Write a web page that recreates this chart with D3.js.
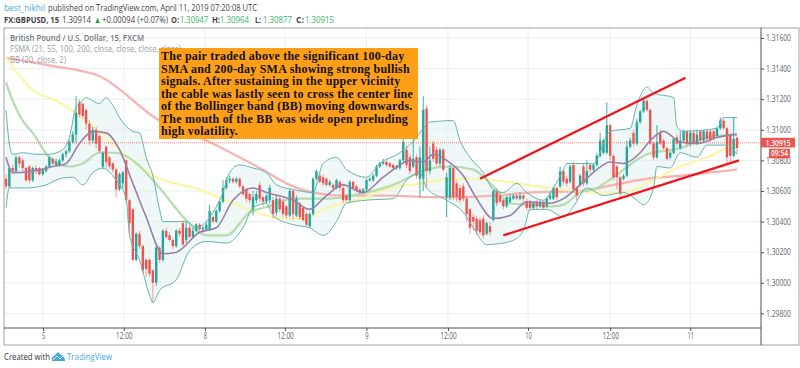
<!DOCTYPE html>
<html>
<head>
<meta charset="utf-8">
<script src="https://cdnjs.cloudflare.com/ajax/libs/d3/7.8.5/d3.min.js"></script>
<style>
    body { margin: 0; background: #fff; }
    text { font-family: "Open Sans", sans-serif; }
    .axis path, .axis line { stroke: #4a4f5a; }
    .axis text { fill: #5d606b; font-size: 8.6px; font-family: "Open Sans", sans-serif; }
</style>
</head>
<body>
<script>
//candles, prices in 1/10000 (13068 = 1.3068), one entry per visible bar
var candleOpen = [
    13068,13063,13075,13073,13082,13080,13075,13076,13067,13075,
    13075,13071,13073,13076,13081,13077,13077,13080,13084,
    13086,13092,13097,13118,13117,13113,13104,13093,13100,
    13096,13076,13089,13082,13078,13074,13061,13065,13080,13054,
    13048,13015,13032,13024,13015,13015,13008,13000,13023,
    13015,13034,13031,13028,13024,13034,13039,13028,13036,13030,13034,
    13038,13035,13035,13035,13043,13040,13047,13053,13062,13067,13068,
    13066,13068,13063,13061,13058,13048,13054,13064,13056,13053,13054,13054,
    13046,13055,13053,13050,13044,13060,13044,13052,13049,13045,
    13037,13045,13068,13070,13069,13068,13064,13064,13062,13066,13062,
    13057,13054,13066,13063,13061,13059,13061,13067,13067,13070,
    13076,13078,13079,13078,13077,13075,13075,13080,13087,13082,13076,
    13082,13068,13068,13114,13073,13091,13087,13078,13087,13056,
    13056,13075,13065,13062,13063,13055,13048,13043,13042,13041,
    13042,13032,13037,13041,13060,13057,13054,13050,13053,13055,
    13057,13055,13057,13053,13053,13049,13053,13050,
    13053,13050,13055,13055,13062,13063,13073,13068,13066,13077,
    13062,13064,13076,13065,13077,13074,13077,13083,13085,13085,
    13103,13083,13076,13069,13068,13070,13089,13098,13091,13105,
    13112,13119,13113,13091,13082,13098,13093,13088,13082,
    13085,13095,13088,13093,13099,13091,13098,13091,13099,13093,
    13099,13099,13099,13096,13101,13106,13101,13096,13083,13095
];
var candleClose = [
    13063,13075,13073,13082,13078,13075,13067,13067,13075,13073,
    13071,13074,13076,13082,13078,13079,13080,13084,13086,
    13092,13097,13111,13110,13109,13104,13093,13100,13091,
    13086,13085,13079,13076,13074,13061,13071,13072,13054,13039,
    13015,13032,13024,13008,13009,13006,13000,13023,13015,
    13034,13030,13028,13024,13034,13032,13025,13036,13030,13034,13038,
    13035,13036,13038,13047,13040,13047,13053,13062,13067,13068,13066,
    13068,13063,13058,13055,13054,13056,13058,13055,13053,13057,13062,13045,
    13055,13048,13045,13044,13060,13045,13055,13043,13041,13038,
    13045,13068,13073,13066,13065,13064,13066,13062,13067,13062,13054,
    13054,13066,13062,13060,13059,13061,13067,13068,13070,13076,
    13078,13079,13077,13076,13075,13076,13080,13092,13077,13073,13081,
    13070,13082,13113,13073,13080,13081,13078,13087,13074,13069,
    13075,13056,13056,13054,13055,13045,13036,13040,13034,13033,
    13031,13039,13033,13060,13052,13053,13050,13056,13056,13057,
    13055,13057,13055,13049,13049,13052,13050,13053,
    13049,13055,13057,13062,13056,13073,13066,13065,13076,13061,
    13057,13070,13065,13073,13074,13077,13083,13093,13093,13103,
    13083,13069,13069,13058,13070,13089,13093,13091,13105,13112,
    13119,13113,13091,13082,13092,13091,13088,13081,13085,
    13094,13091,13093,13099,13091,13098,13091,13097,13093,13099,
    13094,13093,13094,13101,13106,13101,13082,13083,13094,13088
];
var candleHigh = [
    13071,13076,13077,13083,13083,13081,13076,13077,13076,13077,
    13076,13075,13077,13083,13082,13081,13081,13085,13087,
    13093,13099,13122,13120,13118,13114,13106,13102,13102,
    13097,13086,13090,13083,13079,13075,13072,13073,13081,13055,
    13049,13033,13034,13025,13016,13016,13009,13024,13024,
    13035,13036,13033,13029,13035,13036,13041,13040,13038,13036,13039,
    13039,13037,13040,13051,13044,13048,13054,13067,13069,13070,13069,
    13069,13069,13064,13062,13059,13060,13060,13066,13057,13058,13064,13056,
    13057,13056,13055,13051,13061,13061,13057,13053,13050,13046,
    13046,13069,13074,13072,13071,13069,13067,13065,13068,13067,13063,
    13058,13067,13067,13064,13062,13062,13068,13069,13071,13077,
    13079,13081,13080,13079,13078,13077,13081,13095,13090,13084,13095,
    13084,13089,13122,13116,13089,13093,13089,13088,13088,13072,
    13077,13076,13067,13064,13065,13057,13049,13045,13044,13043,
    13044,13040,13040,13061,13062,13059,13055,13057,13058,13058,
    13058,13059,13058,13055,13054,13053,13054,13054,
    13054,13056,13059,13063,13063,13076,13074,13070,13077,13079,
    13063,13071,13078,13080,13078,13078,13085,13098,13094,13118,
    13104,13084,13077,13070,13071,13093,13095,13100,13107,13113,
    13120,13120,13114,13092,13103,13100,13094,13089,13086,
    13095,13097,13099,13100,13100,13100,13100,13100,13100,13100,
    13100,13100,13100,13102,13108,13107,13102,13098,13108,13095
];
var candleLow = [
    13061,13062,13071,13072,13075,13073,13066,13065,13066,13071,
    13070,13070,13072,13075,13077,13076,13076,13079,13082,
    13085,13091,13091,13108,13107,13100,13090,13091,13088,
    13085,13074,13075,13074,13072,13056,13060,13062,13052,13031,
    13014,13014,13022,13006,13004,13004,12987,12998,13013,
    13014,13029,13027,13022,13023,13030,13024,13026,13029,13029,13033,
    13034,13033,13034,13034,13039,13039,13046,13052,13061,13065,13065,
    13065,13062,13057,13053,13052,13044,13052,13053,13050,13052,13052,13042,
    13044,13046,13043,13042,13043,13041,13043,13041,13040,13037,
    13036,13044,13067,13065,13063,13063,13063,13060,13061,13060,13052,
    13053,13053,13061,13059,13058,13058,13060,13066,13066,13069,
    13075,13077,13076,13075,13074,13074,13074,13079,13075,13071,13075,
    13068,13056,13060,13062,13071,13079,13076,13076,13073,13043,
    13054,13054,13053,13052,13053,13040,13032,13034,13031,13031,
    13029,13031,13031,13040,13050,13052,13048,13049,13052,13054,
    13054,13054,13053,13047,13047,13048,13048,13049,
    13048,13049,13054,13054,13054,13062,13064,13063,13065,13059,
    13054,13063,13063,13064,13072,13073,13076,13082,13084,13084,
    13080,13067,13061,13056,13067,13069,13088,13089,13090,13104,
    13111,13112,13090,13080,13081,13090,13087,13080,13081,
    13084,13089,13087,13092,13089,13089,13090,13090,13092,13092,
    13093,13092,13093,13095,13100,13100,13077,13078,13082,13085
];

//moving averages and bands, read at the bars where the curves bend
var sma200Bars = [0,13,28,46,60,76,86,92,101,116,126,136,146,157,172,182,192,202,219];
var sma200Vals = [13147,13142,13135,13106,13093,13075,13063,13059,13057,13057,13056,13056,13057,13059,13060,13064,13068,13070,13074];
var sma100Bars = [0,8,15,24,35,44,58,68,78,84,89,95,99,108,111,124,134,141,156,167,177,185,192,202,210,217,219];
var sma100Vals = [13147,13126,13119,13106,13085,13070,13061,13052,13044,13042,13042,13048,13051,13056,13059,13065,13068,13068,13064,13061,13059,13059,13065,13076,13082,13089,13090];
var sma55Bars = [0,2,5,8,13,19,23,28,33,38,46,54,60,66,73,79,86,96,106,116,126,133,140,146,151,157,164,167,172,177,182,192,202,210,219];
var sma55Vals = [13131,13119,13106,13098,13082,13076,13078,13085,13085,13080,13062,13041,13031,13031,13046,13050,13055,13055,13058,13064,13074,13076,13074,13063,13052,13051,13050,13051,13059,13062,13069,13084,13088,13095,13097];
var sma21Bars = [0,2,8,14,18,22,26,30,34,38,42,47,51,58,63,68,74,78,86,91,96,101,107,113,118,121,125,128,132,137,141,146,151,156,163,167,172,177,181,185,190,193,197,202,207,213,219];
var sma21Vals = [13082,13072,13073,13076,13078,13091,13099,13098,13087,13065,13043,13019,13020,13033,13036,13054,13062,13059,13054,13048,13057,13064,13059,13069,13077,13080,13079,13084,13080,13070,13055,13042,13044,13053,13052,13055,13064,13074,13079,13078,13085,13093,13099,13092,13091,13095,13097];
var bbUpperBars = [0,1,2,5,9,13,17,19,21,22,24,28,30,32,34,38,40,42,44,46,47,54,57,62,65,67,70,74,78,81,86,92,95,99,102,108,112,118,123,125,127,134,136,139,143,146,149,153,156,161,164,167,168,176,181,187,189,192,194,200,201,203,213,215,219];
var bbUpperVals = [13113,13091,13084,13085,13084,13084,13087,13095,13115,13117,13121,13117,13121,13116,13108,13099,13098,13082,13070,13048,13040,13040,13036,13046,13059,13072,13077,13075,13072,13064,13061,13059,13078,13082,13074,13069,13078,13085,13095,13101,13105,13106,13093,13082,13072,13061,13059,13065,13059,13054,13062,13074,13078,13078,13099,13101,13116,13128,13124,13121,13102,13099,13101,13108,13108];
var bbLowerBars = [0,1,6,12,16,20,23,26,29,33,36,37,40,43,44,46,51,55,60,66,71,74,78,80,86,91,95,99,102,108,116,120,124,126,132,137,140,144,151,155,157,162,167,170,174,179,185,189,191,194,195,199,202,207,210,216,219];
var bbLowerVals = [13049,13062,13062,13064,13068,13069,13064,13072,13075,13067,13055,13031,13015,12992,12987,12995,13002,13021,13027,13026,13036,13049,13052,13044,13038,13036,13031,13040,13052,13054,13055,13067,13072,13062,13054,13046,13036,13025,13027,13034,13048,13048,13043,13050,13062,13057,13059,13054,13051,13062,13076,13075,13085,13082,13090,13090,13084];

//hand drawn channel lines, start and end of each
var channelBars = [[142, 203.6], [149, 219.6]];
var channelVals = [[13068, 13134], [13031, 13080]];

//axes
var priceTicks = [13160,13140,13120,13100,13080,13060,13040,13020,13000,12980];
var timeTicks = [11.1,35.3,59.6,83.6,108,132.4,156.4,181,205];
var timeLabels = ["5","12:00","8","12:00","9","12:00","10","12:00","11"];
var lastPrice = 13091.5;
var lastPriceLabel = "1.30915";
var countdownLabel = "09:54";

//text
var noteLines = [
    "The pair traded above the significant 100-day",
    "SMA and 200-day SMA showing strong bullish",
    "signals. After sustaining in the upper vicinity",
    "the cable was lastly seen to cross the center line",
    "of the Bollinger band (BB) moving downwards.",
    "The mouth of the BB was wide open preluding",
    "high volatility."
];
var legendLines = [
    "British Pound / U.S. Dollar, 15, FXCM",
    "FSMA (21, 55, 100, 200, close, close, close, close)",
    "BB (20, close, 2)"
];
var headerName = "best_nikhil";
var headerRest = "published on TradingView.com, April 11, 2019 07:20:08 UTC";
var quoteTexts = ["FX:GBPUSD, 15","1.30914","\u25B2","+0.00094 (+0.07%)","O:","1.30947","H:","1.30964","L:","1.30877","C:","1.30915"];

//frame dimensions
var width = 800,
    height = 368,
    frameLeft = 4,
    frameTop = 28,
    frameRight = 799,
    frameBottom = 345,
    axisX = 761,
    axisY = 328;

var upColor = "#26a69a",
    downColor = "#ef5350",
    bandColor = "#62b3b0",
    linkColor = "#3fa9e0",
    quoteGreen = "#35b56a";

var svg = d3.select("body")
    .append("svg")
    .attr("width", width)
    .attr("height", height)
    .style("display", "block");

//slight softening, the source picture is a scaled down screenshot
var filter = svg.append("defs").append("filter").attr("id", "soft");
filter.append("feGaussianBlur").attr("stdDeviation", 0.35);

svg.select("defs").append("clipPath")
    .attr("id", "plot")
    .append("rect")
    .attr("x", frameLeft)
    .attr("y", frameTop)
    .attr("width", axisX - frameLeft)
    .attr("height", axisY - frameTop);

var xScale = d3.scaleLinear().domain([0, 219]).range([6, 737]);
var yScale = d3.scaleLinear().domain([13160, 12980]).range([38, 313.4]);

function priceText(v) { return (v / 10000).toFixed(5); }

//the original font is narrower than anything installed, so squeeze text to its measured width
function fit(sel, w) {
    sel.attr("textLength", w).attr("lengthAdjust", "spacingAndGlyphs");
}

//grid lines
var grid = svg.append("g");
grid.selectAll(".hgrid")
    .data(priceTicks)
    .enter()
    .append("line")
    .attr("x1", frameLeft)
    .attr("x2", axisX)
    .attr("y1", function(d){ return yScale(d); })
    .attr("y2", function(d){ return yScale(d); })
    .attr("stroke", "#e9eff3");
grid.selectAll(".vgrid")
    .data(timeTicks)
    .enter()
    .append("line")
    .attr("x1", function(d){ return xScale(d); })
    .attr("x2", function(d){ return xScale(d); })
    .attr("y1", frameTop)
    .attr("y2", axisY)
    .attr("stroke", "#e9eff3");

var plot = svg.append("g")
    .attr("clip-path", "url(#plot)")
    .append("g")
    .attr("filter", "url(#soft)");

function makePoints(bars, vals) {
    return bars.map(function(b, i){ return [xScale(b), yScale(vals[i])]; });
}
var curve = d3.line().curve(d3.curveMonotoneX);

//bollinger fill between the two band lines
var upperPoints = makePoints(bbUpperBars, bbUpperVals),
    lowerPoints = makePoints(bbLowerBars, bbLowerVals);
plot.append("path")
    .attr("d", d3.line()(upperPoints.concat(lowerPoints.slice().reverse())) + "Z")
    .attr("fill", "#dff0f0")
    .attr("fill-opacity", 0.5);

//long averages sit behind the candles
[
    {bars: sma200Bars, vals: sma200Vals, color: "#f8b4b2", w: 2.4},
    {bars: sma100Bars, vals: sma100Vals, color: "#fbf6a5", w: 2.2},
    {bars: sma55Bars, vals: sma55Vals, color: "#b5dcae", w: 2.2}
].forEach(function(s){
    plot.append("path")
        .attr("d", curve(makePoints(s.bars, s.vals)))
        .attr("fill", "none")
        .attr("stroke", s.color)
        .attr("stroke-width", s.w);
});

//candles
var bars = candleOpen.map(function(o, i){ return i; });
plot.selectAll(".wick")
    .data(bars)
    .enter()
    .append("line")
    .attr("class", "wick")
    .attr("x1", function(i){ return xScale(i); })
    .attr("x2", function(i){ return xScale(i); })
    .attr("y1", function(i){ return yScale(candleHigh[i]); })
    .attr("y2", function(i){ return yScale(candleLow[i]); })
    .attr("stroke", function(i){ return candleClose[i] >= candleOpen[i] ? upColor : "#f48f8c"; })
    .attr("stroke-width", 0.9);
plot.selectAll(".body")
    .data(bars)
    .enter()
    .append("rect")
    .attr("class", "body")
    .attr("x", function(i){ return xScale(i) - 1.2; })
    .attr("width", 2.4)
    .attr("y", function(i){ return yScale(Math.max(candleOpen[i], candleClose[i])); })
    .attr("height", function(i){ return Math.max(1, Math.abs(yScale(candleOpen[i]) - yScale(candleClose[i]))); })
    .attr("fill", function(i){ return candleClose[i] >= candleOpen[i] ? upColor : downColor; });

//band lines and the 21 average on top
plot.append("path")
    .attr("d", curve(upperPoints))
    .attr("fill", "none")
    .attr("stroke", bandColor);
plot.append("path")
    .attr("d", curve(lowerPoints))
    .attr("fill", "none")
    .attr("stroke", bandColor);
plot.append("path")
    .attr("d", curve(makePoints(sma21Bars, sma21Vals)))
    .attr("fill", "none")
    .attr("stroke", "#9a7fa8")
    .attr("stroke-width", 1.6);

//last price line
svg.append("line")
    .attr("x1", frameLeft)
    .attr("x2", axisX)
    .attr("y1", yScale(lastPrice))
    .attr("y2", yScale(lastPrice))
    .attr("stroke", "#ef5350")
    .attr("stroke-opacity", 0.7)
    .attr("stroke-dasharray", "1,1");

//channel lines
svg.selectAll(".channel")
    .data(channelBars)
    .enter()
    .append("line")
    .attr("class", "channel")
    .attr("x1", function(d){ return xScale(d[0]); })
    .attr("x2", function(d){ return xScale(d[1]); })
    .attr("y1", function(d, i){ return yScale(channelVals[i][0]); })
    .attr("y2", function(d, i){ return yScale(channelVals[i][1]); })
    .attr("stroke", "#f5111a")
    .attr("stroke-width", 2.2);

//frame
svg.append("rect")
    .attr("x", frameLeft)
    .attr("y", frameTop)
    .attr("width", frameRight - frameLeft)
    .attr("height", frameBottom - frameTop)
    .attr("fill", "none")
    .attr("stroke", "#9aa0a8");

//price axis
var yAxis = d3.axisRight(yScale)
    .tickValues(priceTicks)
    .tickFormat(priceText)
    .tickSize(3)
    .tickPadding(2);
var yAxisG = svg.append("g")
    .attr("class", "axis")
    .attr("transform", "translate(" + axisX + ",0)")
    .call(yAxis);
yAxisG.select(".domain")
    .attr("d", "M0," + frameTop + "V" + frameBottom);
fit(yAxisG.selectAll("text"), 25);

//time axis
var xAxis = d3.axisBottom(xScale)
    .tickValues(timeTicks)
    .tickFormat(function(d, i){ return timeLabels[i]; })
    .tickSize(3)
    .tickPadding(2);
var xAxisG = svg.append("g")
    .attr("class", "axis")
    .attr("transform", "translate(0," + axisY + ")")
    .call(xAxis);
xAxisG.select(".domain")
    .attr("d", "M" + frameLeft + ",0H" + axisX);
xAxisG.selectAll("text")
    .attr("textLength", function(d, i){ return timeLabels[i].length * 3.3; })
    .attr("lengthAdjust", "spacingAndGlyphs");

//last price tag and countdown
svg.append("rect")
    .attr("x", axisX)
    .attr("y", yScale(lastPrice) - 5)
    .attr("width", 34)
    .attr("height", 9.6)
    .attr("fill", "#ef5350");
svg.append("text")
    .attr("x", axisX + 17)
    .attr("y", yScale(lastPrice) + 3)
    .attr("text-anchor", "middle")
    .attr("fill", "#fff")
    .attr("font-size", 8.4)
    .attr("font-weight", 600)
    .call(fit, 25)
    .text(lastPriceLabel);
svg.append("rect")
    .attr("x", axisX + 8)
    .attr("y", yScale(lastPrice) + 6)
    .attr("width", 21)
    .attr("height", 9.5)
    .attr("fill", "#ef5350");
svg.append("text")
    .attr("x", axisX + 18.5)
    .attr("y", yScale(lastPrice) + 13.6)
    .attr("text-anchor", "middle")
    .attr("fill", "#fff")
    .attr("font-size", 8.4)
    .attr("font-weight", 600)
    .call(fit, 17)
    .text(countdownLabel);

//chart legend
var legendWidths = [134, 171, 56];
svg.selectAll(".legend")
    .data(legendLines)
    .enter()
    .append("text")
    .attr("class", "legend")
    .attr("x", 10)
    .attr("y", function(d, i){ return 41 + i * 10.8; })
    .attr("fill", function(d, i){ return i == 0 ? "#73767f" : "#9a9da5"; })
    .attr("font-size", 8.6)
    .attr("font-weight", function(d, i){ return i == 0 ? 600 : 400; })
    .attr("textLength", function(d, i){ return legendWidths[i]; })
    .attr("lengthAdjust", "spacingAndGlyphs")
    .text(function(d){ return d; });

//orange note
svg.append("rect")
    .attr("x", 159)
    .attr("y", 48)
    .attr("width", 259)
    .attr("height", 91)
    .attr("fill", "#ff9f17");
svg.selectAll(".note")
    .data(noteLines)
    .enter()
    .append("text")
    .attr("class", "note")
    .attr("x", 161)
    .attr("y", function(d, i){ return 60 + i * 12.5; })
    .style("font-family", "'Liberation Serif', serif")
    .attr("font-size", 12)
    .attr("font-weight", 700)
    .attr("letter-spacing", 0.23)
    .attr("fill", "#111")
    .text(function(d){ return d; });

//header lines
svg.append("text")
    .attr("x", 4)
    .attr("y", 11)
    .attr("font-size", 9.3)
    .attr("fill", linkColor)
    .call(fit, 41)
    .text(headerName);
svg.append("text")
    .attr("x", 48)
    .attr("y", 11)
    .attr("font-size", 9.3)
    .attr("fill", "#444")
    .call(fit, 209)
    .text(headerRest);

var quoteX = [4, 62, 94, 102, 171, 180, 212, 220, 255, 263, 296, 305],
    quoteW = [55, 29, 7, 66, 8, 28, 8, 29, 6, 29, 8, 29];
svg.selectAll(".quote")
    .data(quoteTexts)
    .enter()
    .append("text")
    .attr("class", "quote")
    .attr("x", function(d, i){ return quoteX[i]; })
    .attr("y", 23)
    .attr("font-size", 9.3)
    .attr("font-weight", function(d, i){ return i == 0 || (i > 3 && i % 2 == 0) ? 700 : 400; })
    .attr("fill", function(d, i){
        if (i == 2) return "#1fa33c";
        return i > 3 && i % 2 == 1 ? quoteGreen : "#444";
    })
    .attr("textLength", function(d, i){ return quoteW[i]; })
    .attr("lengthAdjust", "spacingAndGlyphs")
    .text(function(d){ return d; });

//footer
svg.append("text")
    .attr("x", 4)
    .attr("y", 360)
    .attr("font-size", 9.3)
    .attr("fill", "#333")
    .call(fit, 46)
    .text("Created with");
svg.append("path")
    .attr("d", "M52,361 Q51,357 54,356 L58,352 L61,355 Q65,356 65,361 Z")
    .attr("fill", linkColor);
svg.append("path")
    .attr("d", "M53,360 L57,356 L60,359 L63,356")
    .attr("fill", "none")
    .attr("stroke", "#fff")
    .attr("stroke-width", 0.8);
svg.append("text")
    .attr("x", 67)
    .attr("y", 360)
    .attr("font-size", 9.3)
    .attr("fill", linkColor)
    .call(fit, 45)
    .text("TradingView");
</script>
</body>
</html>
